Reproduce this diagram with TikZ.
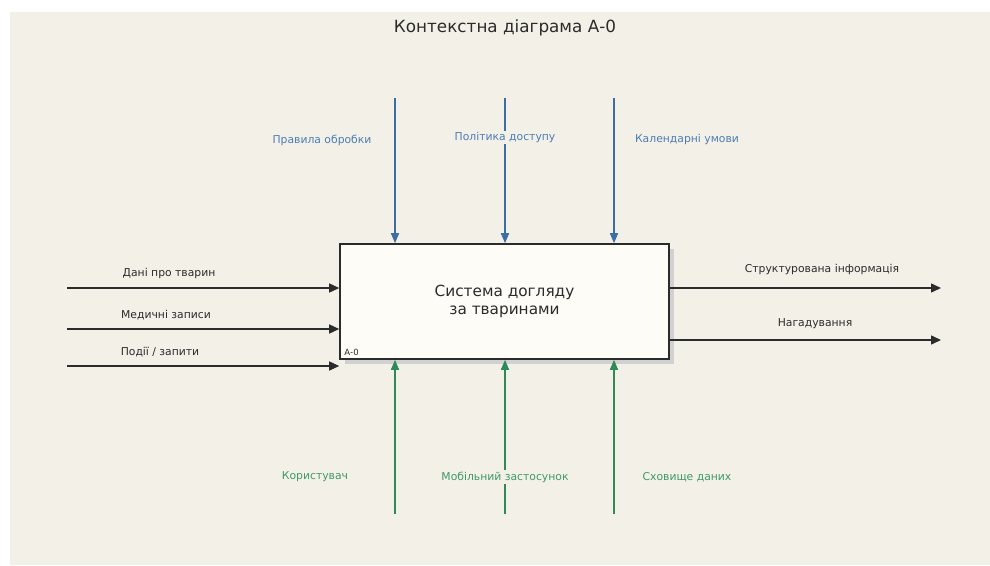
\documentclass[tikz,border=0pt]{standalone}
\usepackage{fontspec}
\setmainfont{DejaVu Sans}
\usepackage{tikz}
\usetikzlibrary{arrows.meta,shadows}
\definecolor{bgcol}{HTML}{F3F0E8}
\definecolor{boxcol}{HTML}{FDFCF7}
\definecolor{inkcol}{HTML}{2B2B2B}
\definecolor{ctrlcol}{HTML}{3A6EA5}
\definecolor{ctrltext}{HTML}{4C7DB3}
\definecolor{mechcol}{HTML}{2E8B57}
\definecolor{mechtext}{HTML}{3F9A66}
\tikzstyle{funcbox} = [draw=inkcol, line width=1.6pt, rectangle, fill=boxcol, minimum width=329pt, minimum height=115pt, align=center, font=\fontsize{15.3}{17.5}\selectfont, text=inkcol, general shadow={fill=black!18, shadow xshift=5pt, shadow yshift=-5pt}]
\tikzstyle{flow} = [line width=1.5pt, draw=inkcol, -{Triangle[length=10pt,width=9pt]}]
\tikzstyle{ctrl} = [flow, draw=ctrlcol, -{Triangle[length=10pt,width=8pt,fill=ctrlcol]}]
\tikzstyle{mech} = [flow, draw=mechcol, -{Triangle[length=10pt,width=8pt,fill=mechcol]}]
\tikzstyle{lbl} = [font=\fontsize{10.8}{13}\selectfont, text=inkcol, fill=bgcol, inner sep=1.5pt]

\begin{document}
\begin{tikzpicture}[x=1pt, y=-1pt]
\useasboundingbox (0,0) rectangle (990,565);
\fill[bgcol] (10,12) rectangle (990,565);

\node [font=\fontsize{16.8}{20}\selectfont, text=inkcol] (title) at (505,27.5) {Контекстна діаграма А-0};

% функціональний блок
\node [funcbox] (box) at (504.5,301.5) {Система догляду\\за тваринами};
\node [anchor=south west, font=\fontsize{8.5}{10}\selectfont, text=inkcol, inner sep=0pt] (boxid) at ([shift={(5,-4)}]box.south west) {А-0};

% входи
\coordinate (in1) at (67,288);
\coordinate (in2) at (67,329);
\coordinate (in3) at (67,366);
\draw [flow] (in1) -- (in1-|box.west);
\draw [flow] (in2) -- (in2-|box.west);
\draw [flow] (in3) -- (in3-|box.west);
\node [lbl] (lin1) at (169,273.5) {Дані про тварин};
\node [lbl] (lin2) at (166,315) {Медичні записи};
\node [lbl] (lin3) at (160,352) {Події / запити};

% виходи
\coordinate (out1) at (941,288);
\coordinate (out2) at (941,340);
\draw [flow] (out1-|box.east) -- (out1);
\draw [flow] (out2-|box.east) -- (out2);
\node [lbl] (lout1) at (822,270) {Структурована інформація};
\node [lbl] (lout2) at (815,324) {Нагадування};

% керування
\coordinate (c1) at (395,98);
\coordinate (c2) at (505,98);
\coordinate (c3) at (614,98);
\draw [ctrl] (c1) -- (c1|-box.north);
\draw [ctrl] (c2) -- (c2|-box.north);
\draw [ctrl] (c3) -- (c3|-box.north);
\node [lbl, text=ctrltext] (lc1) at (322,140) {Правила обробки};
\node [lbl, text=ctrltext] (lc2) at (505,137.5) {Політика доступу};
\node [lbl, text=ctrltext] (lc3) at (687,140) {Календарні умови};

% механізми
\coordinate (m1) at (395,514);
\coordinate (m2) at (505,514);
\coordinate (m3) at (614,514);
\draw [mech] (m1) -- (m1|-box.south);
\draw [mech] (m2) -- (m2|-box.south);
\draw [mech] (m3) -- (m3|-box.south);
\node [lbl, text=mechtext] (lm1) at (315,477) {Користувач};
\node [lbl, text=mechtext] (lm2) at (505,477) {Мобільний застосунок};
\node [lbl, text=mechtext] (lm3) at (687,477) {Сховище даних};
\end{tikzpicture}
\end{document}
